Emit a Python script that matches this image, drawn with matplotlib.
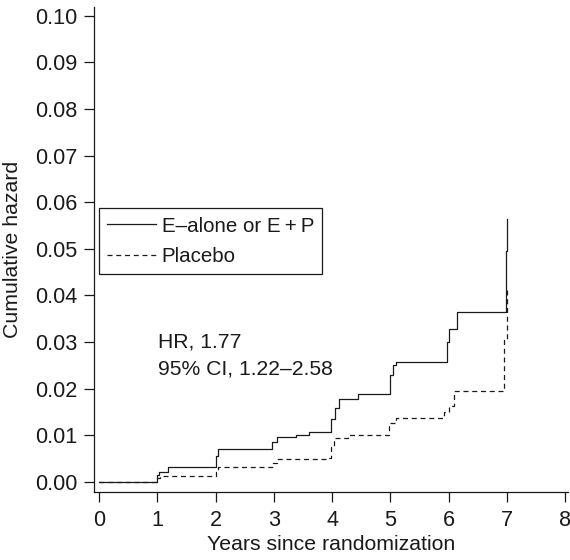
import matplotlib
matplotlib.use('Agg')
import matplotlib.pyplot as plt

# cumulative hazard step curves
treat_years = [0, 1.0, 1.03, 1.18, 2.0, 2.05, 2.97, 3.05, 3.38, 3.6, 3.98, 4.05,
               4.12, 4.44, 4.99, 5.04, 5.09, 5.97, 6.0, 6.14, 6.98, 7.0]
treat_hazard = [0, 0.0015, 0.0022, 0.0031, 0.0055, 0.0070, 0.0085, 0.0096, 0.0101,
                0.0108, 0.0135, 0.0159, 0.0178, 0.0189, 0.0230, 0.0250, 0.0258,
                0.0300, 0.0328, 0.0365, 0.0495, 0.0565]

placebo_years = [0, 1.0, 1.05, 2.0, 2.05, 2.98, 3.05, 3.9, 3.98, 4.03, 4.27, 4.97,
                 5.0, 5.09, 5.93, 6.0, 6.09, 6.95, 7.0]
placebo_hazard = [0, 0.0008, 0.0013, 0.0022, 0.0031, 0.0040, 0.0049, 0.0052, 0.0075,
                  0.0094, 0.0101, 0.0120, 0.0127, 0.0137, 0.0150, 0.0163, 0.0194,
                  0.0305, 0.0414]

series_labels = ['E\u2013alone or E\u2009+\u2009P', 'Placebo']
x_ticks = list(range(0, 9))
y_ticks = [i / 100 for i in range(0, 11)]
hr_lines = ['HR, 1.77', '95% CI, 1.22\u20132.58']

plt.rcParams['font.family'] = ['Liberation Sans', 'DejaVu Sans']
ink = '#1a1a1a'

fig = plt.figure(figsize=(5.7, 5.6), dpi=100)
ax = fig.add_axes([94 / 570, 1 - 491.7 / 560, 474 / 570, (491.7 - 7) / 560])

ax.step(treat_years, treat_hazard, where='post', color=ink, lw=0.9,
        label=series_labels[0])
ax.step(placebo_years, placebo_hazard, where='post', color=ink, lw=0.9,
        linestyle=(0, (4, 3)), label=series_labels[1])

ax.set_xlim(-0.086, 8.05)
ax.set_ylim(-0.0021, 0.1019)
ax.set_xticks(x_ticks)
ax.set_yticks(y_ticks)
ax.set_yticklabels([f'{v:.2f}' for v in y_ticks])
ax.spines['top'].set_visible(False)
ax.spines['right'].set_visible(False)
for side in ['left', 'bottom']:
    ax.spines[side].set_color(ink)
    ax.spines[side].set_linewidth(0.9)
ax.tick_params(colors=ink, labelsize=15.6, length=7, width=0.9)
ax.tick_params(axis='x', pad=6)
ax.tick_params(axis='y', pad=5)
ax.set_xlabel('Years since randomization', fontsize=15.3, color=ink, labelpad=3)
ax.set_ylabel('Cumulative hazard', fontsize=15.3, color=ink, labelpad=9)

leg = ax.legend(loc='upper left', bbox_to_anchor=(99 / 570, 1 - 208.3 / 560),
                bbox_transform=fig.transFigure, fontsize=14.8, frameon=True,
                fancybox=False, edgecolor=ink, framealpha=1, borderaxespad=0,
                handlelength=2.35, handletextpad=0.3, labelspacing=0.55,
                borderpad=0.4)
leg.get_frame().set_linewidth(0.9)
for t in leg.get_texts():
    t.set_color(ink)

ax.text(1.018, 0.0301, hr_lines[0], fontsize=15.2, color=ink, ha='left', va='center')
ax.text(1.018, 0.0242, hr_lines[1], fontsize=15.2, color=ink, ha='left', va='center')

plt.savefig('out.png', dpi=100)
